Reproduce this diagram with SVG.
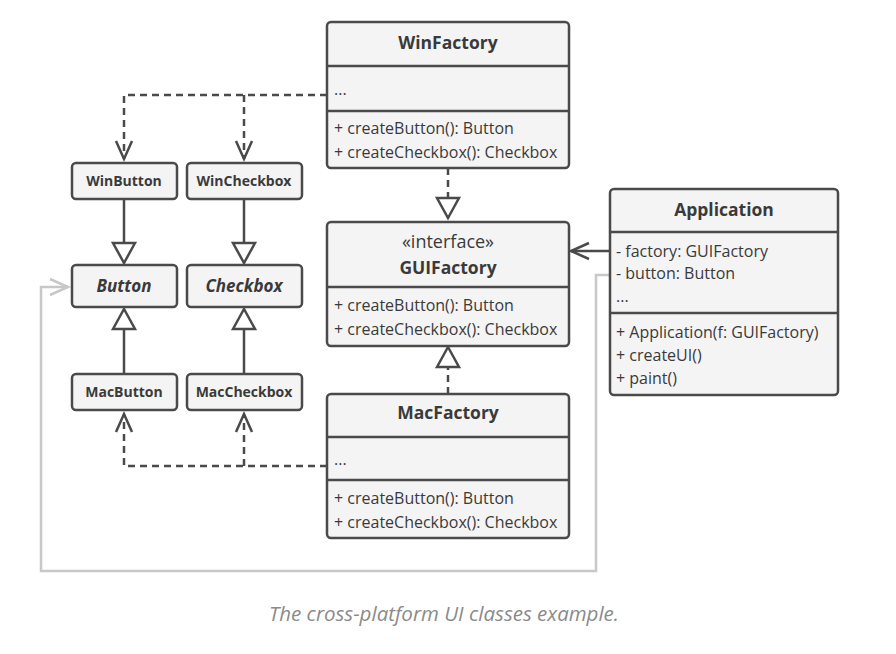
<svg xmlns="http://www.w3.org/2000/svg" width="896" height="654" viewBox="0 0 896 654">
<style>
.box{fill:#f4f4f4;stroke:#4a4a4a;stroke-width:2.5}
.div{stroke:#4a4a4a;stroke-width:2.5}
.t{font-family:"Open Sans","Noto Sans",sans-serif;fill:#3a3a3a}
.title{font-size:17.5px;font-weight:bold;text-anchor:middle}
.small{font-size:14px;font-weight:bold;text-anchor:middle}
.abs{font-size:17px;font-weight:bold;font-style:italic;text-anchor:middle}
.m{font-size:16px}
.st{font-size:18px;text-anchor:middle}
.ln{fill:none;stroke:#4a4a4a;stroke-width:2.5}
.dash{stroke-dasharray:7 5}
.gray{fill:none;stroke:#c8c8c8;stroke-width:2.5}
.cap{font-family:"Open Sans","Noto Sans",sans-serif;font-size:20.5px;font-style:italic;fill:#8a8a8a;text-anchor:middle}
</style>
<defs>
<marker id="tri" markerUnits="userSpaceOnUse" markerWidth="28" markerHeight="28" refX="22" refY="12" orient="auto" viewBox="0 0 28 24">
<path d="M2,1 L22,12 L2,23 Z" fill="#ffffff" stroke="#4a4a4a" stroke-width="2.5"/>
</marker>
<marker id="open" markerUnits="userSpaceOnUse" markerWidth="24" markerHeight="20" refX="19" refY="10" orient="auto" viewBox="0 0 24 20">
<path d="M1,2 L19,10 L1,18" fill="none" stroke="#4a4a4a" stroke-width="2.5"/>
</marker>
<marker id="openg" markerUnits="userSpaceOnUse" markerWidth="24" markerHeight="20" refX="19" refY="10" orient="auto" viewBox="0 0 24 20">
<path d="M1,2 L19,10 L1,18" fill="none" stroke="#c8c8c8" stroke-width="2.5"/>
</marker>
</defs>
<rect width="896" height="654" fill="#ffffff"/>

<g id="connectors">
<path class="gray" d="M610,275 H596 V571 H41 V287 H68" marker-end="url(#openg)"/>
<path class="ln dash" d="M327,95 H124 V159" marker-end="url(#open)"/>
<path class="ln dash" d="M244,95 V159" marker-end="url(#open)"/>
<path class="ln dash" d="M327,466 H124 V414" marker-end="url(#open)"/>
<path class="ln dash" d="M244,466 V414" marker-end="url(#open)"/>
<path class="ln" d="M124,199 V263" marker-end="url(#tri)"/>
<path class="ln" d="M244,199 V263" marker-end="url(#tri)"/>
<path class="ln" d="M124,374 V309" marker-end="url(#tri)"/>
<path class="ln" d="M244,374 V309" marker-end="url(#tri)"/>
<path class="ln dash" d="M448,168 V218" marker-end="url(#tri)"/>
<path class="ln dash" d="M448,394 V347" marker-end="url(#tri)"/>
<path class="ln" d="M610,251 H571" marker-end="url(#open)"/>
</g>

<g id="WinFactory">
<rect class="box" x="327" y="22" width="242" height="146" rx="4"/>
<line class="div" x1="327" y1="66" x2="569" y2="66"/>
<line class="div" x1="327" y1="111" x2="569" y2="111"/>
<text class="t title" x="448" y="49">WinFactory</text>
<text class="t m" x="334" y="95">...</text>
<text class="t m" x="334" y="134">+ createButton(): Button</text>
<text class="t m" x="334" y="158">+ createCheckbox(): Checkbox</text>
</g>

<g id="GUIFactory">
<rect class="box" x="327" y="222" width="242" height="124" rx="4"/>
<line class="div" x1="327" y1="287" x2="569" y2="287"/>
<text class="t st" x="448" y="248">«interface»</text>
<text class="t title" x="448" y="274">GUIFactory</text>
<text class="t m" x="334" y="311">+ createButton(): Button</text>
<text class="t m" x="334" y="335">+ createCheckbox(): Checkbox</text>
</g>

<g id="MacFactory">
<rect class="box" x="327" y="394" width="242" height="144" rx="4"/>
<line class="div" x1="327" y1="437" x2="569" y2="437"/>
<line class="div" x1="327" y1="480" x2="569" y2="480"/>
<text class="t title" x="448" y="419">MacFactory</text>
<text class="t m" x="334" y="465">...</text>
<text class="t m" x="334" y="504">+ createButton(): Button</text>
<text class="t m" x="334" y="528">+ createCheckbox(): Checkbox</text>
</g>

<g id="Application">
<rect class="box" x="610" y="189" width="228" height="206" rx="4"/>
<line class="div" x1="610" y1="232" x2="838" y2="232"/>
<line class="div" x1="610" y1="313" x2="838" y2="313"/>
<text class="t title" x="724" y="216">Application</text>
<text class="t m" x="616" y="257">- factory: GUIFactory</text>
<text class="t m" x="616" y="279">- button: Button</text>
<text class="t m" x="616" y="302">...</text>
<text class="t m" x="616" y="338">+ Application(f: GUIFactory)</text>
<text class="t m" x="616" y="361">+ createUI()</text>
<text class="t m" x="616" y="384">+ paint()</text>
</g>

<g id="WinButton">
<rect class="box" x="72" y="163" width="105" height="36" rx="4"/>
<text class="t small" x="124" y="186">WinButton</text>
</g>
<g id="WinCheckbox">
<rect class="box" x="187" y="163" width="115" height="36" rx="4"/>
<text class="t small" x="244" y="186">WinCheckbox</text>
</g>
<g id="Button">
<rect class="box" x="72" y="265" width="105" height="42" rx="4"/>
<text class="t abs" x="124" y="292">Button</text>
</g>
<g id="Checkbox">
<rect class="box" x="187" y="265" width="115" height="42" rx="4"/>
<text class="t abs" x="244" y="292">Checkbox</text>
</g>
<g id="MacButton">
<rect class="box" x="72" y="374" width="105" height="36" rx="4"/>
<text class="t small" x="124" y="397">MacButton</text>
</g>
<g id="MacCheckbox">
<rect class="box" x="187" y="374" width="115" height="36" rx="4"/>
<text class="t small" x="244" y="397">MacCheckbox</text>
</g>

<text class="cap" x="444" y="621">The cross-platform UI classes example.</text>
</svg>
